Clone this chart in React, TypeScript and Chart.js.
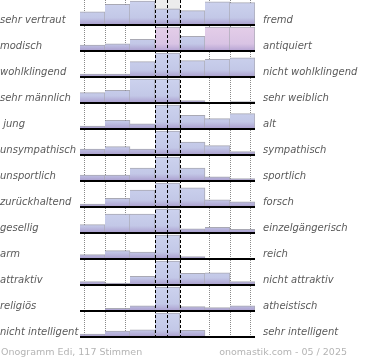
import React, { useEffect, useRef } from "react";
import { Chart, registerables } from "chart.js";

Chart.register(...registerables);

// Seven answer columns (scale from left pole to right pole)
const columns = ["1", "2", "3", "4", "5", "6", "7"];

const leftLabels = [
  "sehr vertraut", "modisch", "wohlklingend", "sehr männlich", " jung",
  "unsympathisch", "unsportlich", "zurückhaltend", "gesellig", "arm",
  "attraktiv", "religiös", "nicht intelligent",
];
const rightLabels = [
  "fremd", "antiquiert", "nicht wohlklingend", "sehr weiblich", "alt",
  "sympathisch", "sportlich", "forsch", "einzelgängerisch", "reich",
  "nicht attraktiv", "atheistisch", "sehr intelligent",
];

// Bar heights per row, in % of the row's full height
const vertraut = [55, 86, 100, 67, 60, 97, 93];
const modisch = [25, 30, 49, 100, 61, 100, 100];
const wohlklingend = [12, 12, 64, 100, 68, 74, 80];
const maennlich = [43, 53, 100, 100, 10, 0, 6];
const jung = [12, 36, 22, 100, 57, 43, 64];
const unsympathisch = [25, 35, 25, 100, 54, 39, 14];
const unsportlich = [25, 25, 54, 100, 54, 17, 10];
const zurueckhaltend = [12, 36, 70, 100, 80, 30, 22];
const gesellig = [35, 79, 79, 100, 17, 24, 15];
const arm = [18, 35, 29, 100, 10, 0, 0];
const attraktiv = [14, 8, 36, 100, 49, 51, 14];
const religioes = [0, 11, 22, 100, 18, 14, 22];
const intelligent = [12, 25, 30, 100, 28, 0, 0];

const rows = [
  vertraut, modisch, wohlklingend, maennlich, jung, unsympathisch, unsportlich,
  zurueckhaltend, gesellig, arm, attraktiv, religioes, intelligent,
];

// highlighted (overflow) cells: row 1, columns 3, 5, 6
const pinkRow = 1;
const pinkCols = [3, 5, 6];
// grey backdrop cell: row 0, column 3
const greyRow = 0;
const greyCol = 3;

const footerLeft = "Onogramm Edi, 117 Stimmen";
const footerRight = "onomastik.com - 05 / 2025";

const FULL = 24 / 26; // full bar height as fraction of a row
const YMIN = 1 / 26;
const YMAX = rows.length + 1 / 26;

function barFill(ctx: any, r: number, pink: boolean) {
  const chart = ctx.chart;
  const ys = chart.scales && chart.scales.y;
  if (!chart.chartArea || !ys) return pink ? "#dfc8e6" : "#c5cbe8";
  const bottom = ys.getPixelForValue(r + 1);
  const top = ys.getPixelForValue(r + 1 - FULL);
  const g = chart.ctx.createLinearGradient(0, top, 0, bottom);
  if (pink) {
    g.addColorStop(0, "#e4cde8");
    g.addColorStop(0.7, "#d9c4e4");
    g.addColorStop(1, "#b4a2d2");
  } else {
    g.addColorStop(0, "#ccd2ee");
    g.addColorStop(0.7, "#c3c8e7");
    g.addColorStop(1, "#aa9dcd");
  }
  return g;
}

const zeroPad = (scale: any) => {
  scale.paddingTop = 0;
  scale.paddingBottom = 0;
  scale.paddingLeft = 0;
  scale.paddingRight = 0;
};

export default function App() {
  const ref = useRef<HTMLCanvasElement | null>(null);

  useEffect(() => {
    if (!ref.current) return;

    const datasets: any[] = rows.map((vals, r) => ({
      label: leftLabels[r],
      data: vals.map((v) => [r + 1 - (v / 100) * FULL, r + 1]),
      backgroundColor: (ctx: any) =>
        barFill(ctx, r, r === pinkRow && pinkCols.includes(ctx.dataIndex)),
      borderColor: "rgba(140,140,155,0.75)",
      borderWidth: { top: 1, right: 1, left: 0, bottom: 0 },
      borderSkipped: false,
      categoryPercentage: 1,
      barPercentage: 1,
      grouped: false,
      order: 1,
      xAxisID: "x",
      yAxisID: "y",
    }));

    datasets.push({
      label: "bg",
      data: columns.map((_, j) => (j === greyCol ? [YMIN, greyRow + 1] : null)),
      backgroundColor: "#ececec",
      borderWidth: 0,
      categoryPercentage: 1,
      barPercentage: 1,
      grouped: false,
      order: 2,
      xAxisID: "x",
      yAxisID: "y",
    });

    const chart = new Chart(ref.current, {
      type: "bar",
      data: { labels: columns, datasets },
      options: {
        animation: false,
        responsive: false,
        layout: { padding: { top: 0, bottom: 22, left: 0, right: 0 } },
        plugins: { legend: { display: false }, tooltip: { enabled: false } },
        scales: {
          x: { type: "category", display: false },
          xg: {
            type: "linear",
            position: "bottom",
            min: 0,
            max: columns.length,
            afterBuildTicks: (s: any) => {
              s.ticks = [0, 1, 2, 5, 6, 7].map((v) => ({ value: v }));
            },
            afterFit: (s: any) => { s.height = 0; zeroPad(s); },
            ticks: { display: false },
            grid: { color: "#8a8a8a", lineWidth: 1, drawTicks: false, z: 0 },
            border: { display: false, dash: [1, 1] },
          },
          xd: {
            type: "linear",
            position: "bottom",
            min: 0,
            max: columns.length,
            afterBuildTicks: (s: any) => {
              s.ticks = [3, 4].map((v) => ({ value: v }));
            },
            afterFit: (s: any) => { s.height = 0; zeroPad(s); },
            ticks: { display: false },
            grid: { color: "#000", lineWidth: 1, drawTicks: false, z: 2 },
            border: { display: false, dash: [3, 2] },
          },
          y: {
            type: "linear",
            position: "left",
            reverse: true,
            min: YMIN,
            max: YMAX,
            afterBuildTicks: (s: any) => {
              s.ticks = leftLabels.map((_, i) => ({ value: i + 1 - 5 / 26 }));
            },
            afterFit: (s: any) => { s.width = 80; zeroPad(s); },
            ticks: {
              autoSkip: false,
              crossAlign: "far",
              padding: 0,
              color: "#5a5a5a",
              font: { family: "DejaVu Sans", size: 10, style: "italic" },
              callback: (_v: any, i: number) => leftLabels[i],
            },
            grid: { display: false, drawTicks: false },
            border: { display: false },
          },
          yr: {
            type: "linear",
            position: "right",
            reverse: true,
            min: YMIN,
            max: YMAX,
            afterBuildTicks: (s: any) => {
              s.ticks = rightLabels.map((_, i) => ({ value: i + 1 - 5 / 26 }));
            },
            afterFit: (s: any) => { s.width = 115; zeroPad(s); },
            ticks: {
              autoSkip: false,
              crossAlign: "near",
              padding: 8,
              color: "#5a5a5a",
              font: { family: "DejaVu Sans", size: 10, style: "italic" },
              callback: (_v: any, i: number) => rightLabels[i],
            },
            grid: { display: false, drawTicks: false },
            border: { display: false },
          },
          yg: {
            type: "linear",
            position: "left",
            reverse: true,
            min: YMIN,
            max: YMAX,
            afterBuildTicks: (s: any) => {
              s.ticks = rows.map((_, i) => ({ value: i + 1 }));
            },
            afterFit: (s: any) => { s.width = 0; zeroPad(s); },
            ticks: { display: false },
            grid: { color: "#000", lineWidth: 2, drawTicks: false, z: 1 },
            border: { display: false },
          },
        },
      } as any,
    });

    return () => chart.destroy();
  }, []);

  const footStyle: React.CSSProperties = {
    position: "absolute",
    top: 346,
    fontFamily: "DejaVu Sans",
    fontSize: 9.5,
    lineHeight: "12px",
    color: "#b4b4b4",
    whiteSpace: "nowrap",
  };

  return (
    <div style={{ position: "absolute", left: 0, top: 0, width: 370, height: 360, background: "#fff" }}>
      <canvas ref={ref} width={370} height={360} style={{ display: "block" }} />
      <div style={{ ...footStyle, left: 1 }}>{footerLeft}</div>
      <div style={{ ...footStyle, right: 23 }}>{footerRight}</div>
    </div>
  );
}
